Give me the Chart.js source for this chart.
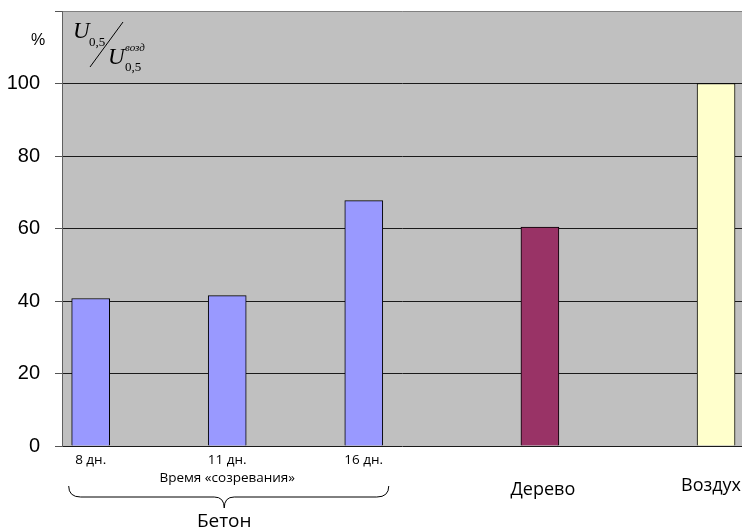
<!DOCTYPE html>
<html>
<head>
<meta charset="utf-8">
<script src="https://cdn.jsdelivr.net/npm/chart.js@4"></script>
<style>
  html, body { margin: 0; padding: 0; background: #fff; }
  #wrap { width: 742px; height: 530px; position: relative; }
</style>
</head>
<body>
<div id="wrap"><canvas id="mainChart" width="742" height="530"></canvas></div>
<script>
// categories, where they sit along the x axis, and the measured ratio U0,5 / U0,5(возд), %
const labels = ['8 дн.', '11 дн.', '16 дн.', 'Дерево', 'Воздух'];
const positions = [1, 2, 3, 4.29, 5.58];
const values = [40.7, 41.5, 67.7, 60.4, 100];
const colors = ['#9999FF', '#9999FF', '#9999FF', '#993366', '#FFFFCC'];
const yTicks = [0, 20, 40, 60, 80, 100];

const plotBg = {
    id: 'plotBg',
    beforeDraw(chart) {
        const a = chart.chartArea, c = chart.ctx;
        c.save();
        c.fillStyle = '#C0C0C0';
        c.fillRect(a.left, a.top, a.right - a.left, a.bottom - a.top);
        c.restore();
    }
};

const annotations = {
    id: 'annotations',
    afterDraw(chart) {
        const c = chart.ctx, x = chart.scales.x;
        c.save();
        c.fillStyle = '#000';
        c.textAlign = 'center';
        c.textBaseline = 'middle';

        // small day labels under the concrete bars
        c.font = '13.5px "Open Sans"';
        for (let i = 0; i < 3; i++) c.fillText(labels[i], x.getPixelForValue(positions[i]), 460);
        c.fillText('Время «созревания»', x.getPixelForValue(positions[1]), 478);

        c.font = '18px "Open Sans"';
        c.fillText(labels[3], x.getPixelForValue(positions[3]) + 3, 490);
        c.fillText(labels[4], x.getPixelForValue(positions[4]) - 5, 486);

        // brace over the concrete group
        const l = x.getPixelForValue(positions[0]) - 22, r = x.getPixelForValue(positions[2]) + 25;
        const m = x.getPixelForValue(positions[1]) - 3;
        c.strokeStyle = '#000';
        c.lineWidth = 1;
        c.beginPath();
        c.moveTo(l, 486);
        c.quadraticCurveTo(l, 497, l + 12, 497);
        c.lineTo(m - 10, 497);
        c.quadraticCurveTo(m, 497, m, 508);
        c.quadraticCurveTo(m, 497, m + 10, 497);
        c.lineTo(r - 12, 497);
        c.quadraticCurveTo(r, 497, r, 486);
        c.stroke();
        c.font = '19px "Open Sans"';
        c.fillText('Бетон', m, 522);

        // y axis unit and ratio caption
        c.font = '16px "Liberation Sans"';
        c.fillText('%', 38, 41);

        c.textAlign = 'left';
        c.textBaseline = 'alphabetic';
        c.font = 'italic 23px "Liberation Serif"';
        c.fillText('U', 73, 38);
        c.fillText('U', 108, 64);
        c.font = '13px "Liberation Serif"';
        c.fillText('0,5', 89, 46);
        c.fillText('0,5', 125, 71);
        c.font = 'italic 11px "Liberation Serif"';
        c.fillText('возд', 125, 51);
        c.beginPath();
        c.moveTo(90, 67);
        c.lineTo(123, 22);
        c.stroke();
        c.restore();
    }
};

new Chart(document.getElementById('mainChart'), {
    type: 'bar',
    data: {
        datasets: [{
            data: positions.map((p, i) => ({ x: p, y: values[i] })),
            backgroundColor: colors,
            borderColor: '#000',
            borderWidth: 1,
            barThickness: 38
        }]
    },
    options: {
        responsive: false,
        animation: false,
        layout: { padding: { top: 11, right: 0, bottom: 84, left: 0 } },
        plugins: { legend: { display: false }, tooltip: { enabled: false } },
        scales: {
            x: { type: 'linear', min: 0.79, max: 5.77, offset: false, display: false },
            y: {
                min: 0, max: 120,
                afterBuildTicks: s => { s.ticks = yTicks.concat([120]).map(v => ({ value: v })); },
                afterFit: s => { s.width = 62; s.paddingTop = 0; s.paddingBottom = 0; },
                ticks: {
                    color: '#000',
                    font: { family: 'Liberation Sans', size: 20 },
                    padding: 15,
                    callback: v => yTicks.includes(v) ? String(v) : ''
                },
                grid: {
                    color: c => c.tick && c.tick.value === 120 ? '#808080' : '#1a1a1a',
                    tickLength: 7,
                    tickColor: '#555'
                },
                border: { color: '#606060', width: 1 }
            }
        }
    },
    plugins: [plotBg, annotations]
});
</script>
</body>
</html>
